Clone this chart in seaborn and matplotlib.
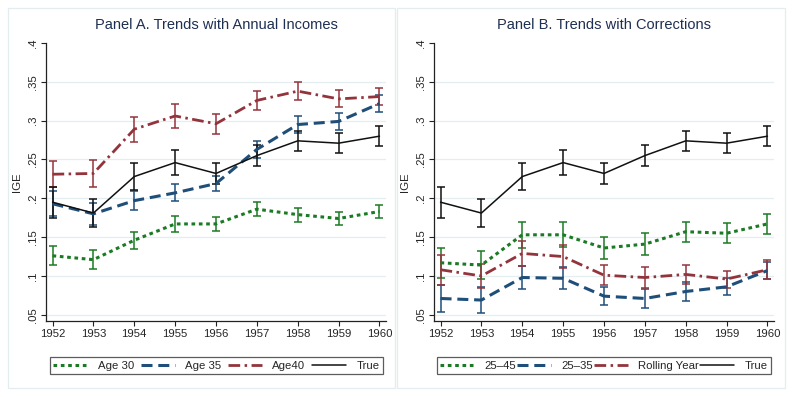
import matplotlib
matplotlib.use("Agg")
import matplotlib.pyplot as plt
import matplotlib.patches as patches
from matplotlib.lines import Line2D
import numpy as np
import pandas as pd
import seaborn as sns

# ---- data ----
years = [1952, 1953, 1954, 1955, 1956, 1957, 1958, 1959, 1960]

# Panel A. Trends with Annual Incomes
age30 = [0.126, 0.121, 0.146, 0.167, 0.167, 0.186, 0.179, 0.174, 0.183]
age30_err = [0.012, 0.012, 0.011, 0.010, 0.009, 0.009, 0.009, 0.008, 0.008]
age35 = [0.193, 0.180, 0.197, 0.207, 0.219, 0.263, 0.295, 0.299, 0.322]
age35_err = [0.016, 0.014, 0.012, 0.011, 0.010, 0.011, 0.011, 0.011, 0.011]
age40 = [0.231, 0.232, 0.289, 0.306, 0.296, 0.326, 0.338, 0.328, 0.331]
age40_err = [0.017, 0.017, 0.016, 0.015, 0.013, 0.012, 0.012, 0.011, 0.011]
true_ige = [0.195, 0.181, 0.228, 0.246, 0.232, 0.255, 0.274, 0.271, 0.280]
true_err = [0.020, 0.018, 0.017, 0.016, 0.014, 0.014, 0.013, 0.013, 0.013]

# Panel B. Trends with Corrections
r25_45 = [0.117, 0.114, 0.153, 0.153, 0.136, 0.141, 0.157, 0.155, 0.167]
r25_45_err = [0.019, 0.018, 0.017, 0.016, 0.014, 0.014, 0.013, 0.013, 0.013]
r25_35 = [0.071, 0.069, 0.098, 0.097, 0.074, 0.071, 0.080, 0.086, 0.107]
r25_35_err = [0.018, 0.017, 0.015, 0.014, 0.012, 0.012, 0.012, 0.011, 0.011]
rolling = [0.108, 0.100, 0.129, 0.125, 0.101, 0.098, 0.102, 0.096, 0.108]
rolling_err = [0.019, 0.016, 0.016, 0.015, 0.013, 0.013, 0.012, 0.011, 0.012]

y_ticks = [0.05, 0.1, 0.15, 0.2, 0.25, 0.3, 0.35, 0.4]

GREEN = "#1b7a24"
BLUE = "#1f4e79"
RED = "#93343c"
BLACK = "#111111"
GRID = "#e4eef0"
TITLE = "#1e2f52"

DOT = (0, (1.2, 1.2))
DASH = (0, (3.6, 1.9))
DASHDOT = (0, (4.2, 1.6, 0.9, 1.6))

sns.set_theme(style="white")
plt.rcParams["font.family"] = ["Liberation Sans", "DejaVu Sans"]

fig = plt.figure(figsize=(7.93, 3.97), dpi=100)
W, H = 793, 397


def px_axes(left, top, right, bottom):
    return fig.add_axes([left / W, 1 - bottom / H, (right - left) / W, (bottom - top) / H])


def draw_panel(ax, series, title):
    for vals, errs, color, ls, lw, label in series:
        df = pd.DataFrame({"year": years, "ige": vals})
        ax.errorbar(years, vals, yerr=errs, fmt="none", ecolor=color,
                    elinewidth=1.1, capsize=2.6, capthick=1.1, zorder=2)
        sns.lineplot(data=df, x="year", y="ige", ax=ax, color=color,
                     linestyle=ls, linewidth=lw, zorder=3, label=label)
    ax.get_legend().remove()
    for t in y_ticks[:-1]:
        ax.axhline(t, color=GRID, lw=0.9, zorder=0)
    ax.set_xlim(1951.84, 1960.16)
    ax.set_ylim(0.042, 0.4)
    ax.set_xticks(years)
    ax.set_xticklabels([str(y) for y in years], fontsize=8.2)
    ax.set_yticks(y_ticks)
    ax.set_yticklabels([f"{t:g}".lstrip("0") for t in y_ticks], fontsize=8.2,
                       rotation=90, va="center")
    ax.tick_params(axis="both", length=3.5, width=0.8, color="#222222",
                   pad=2.5, bottom=True, left=True)
    for side in ["top", "right"]:
        ax.spines[side].set_visible(False)
    for side in ["left", "bottom"]:
        ax.spines[side].set_color("#222222")
        ax.spines[side].set_linewidth(0.9)
    ax.set_xlabel("")
    ax.set_ylabel("IGE", fontsize=8.2, labelpad=4)
    ax.set_title(title, fontsize=10.5, color=TITLE, pad=10)
    ax.patch.set_alpha(0)

    handles = [Line2D([], [], color=c, linestyle=ls, linewidth=lw)
               for _, _, c, ls, lw, _ in series]
    labels = [s[5] for s in series]
    return handles, labels


# panel frames
for x0, x1 in [(8, 395), (397, 785)]:
    fig.patches.append(patches.Rectangle((x0 / W, 1 - 388 / H), (x1 - x0) / W, 380 / H,
                                         transform=fig.transFigure, fill=False,
                                         edgecolor="#e3ecee", lw=0.9))

axA = px_axes(46, 43, 386, 321)
axB = px_axes(434, 43, 774, 321)

seriesA = [
    (age30, age30_err, GREEN, DOT, 2.2, "Age 30"),
    (age35, age35_err, BLUE, DASH, 2.2, "Age 35"),
    (age40, age40_err, RED, DASHDOT, 2.0, "Age40"),
    (true_ige, true_err, BLACK, "-", 1.1, "True"),
]
seriesB = [
    (r25_45, r25_45_err, GREEN, DOT, 2.2, "25\u201345"),
    (r25_35, r25_35_err, BLUE, DASH, 2.2, "25\u201335"),
    (rolling, rolling_err, RED, DASHDOT, 2.0, "Rolling Year"),
    (true_ige, true_err, BLACK, "-", 1.1, "True"),
]

for ax, series, title, (lx0, lx1) in [
    (axA, seriesA, "Panel A. Trends with Annual Incomes", (50, 383)),
    (axB, seriesB, "Panel B. Trends with Corrections", (437, 771)),
]:
    handles, labels = draw_panel(ax, series, title)
    leg = fig.legend(handles, labels, ncol=4, mode="expand",
                     bbox_to_anchor=(lx0 / W, 1 - 374 / H, (lx1 - lx0) / W, 20 / H),
                     loc="lower left", fontsize=8.2, handlelength=3.0,
                     handletextpad=0.9, columnspacing=0.8, borderaxespad=0,
                     borderpad=0.3, fancybox=False, frameon=True)
    leg.get_frame().set_edgecolor("#333333")
    leg.get_frame().set_linewidth(0.9)

fig.savefig("out.png", dpi=100, facecolor="white")
